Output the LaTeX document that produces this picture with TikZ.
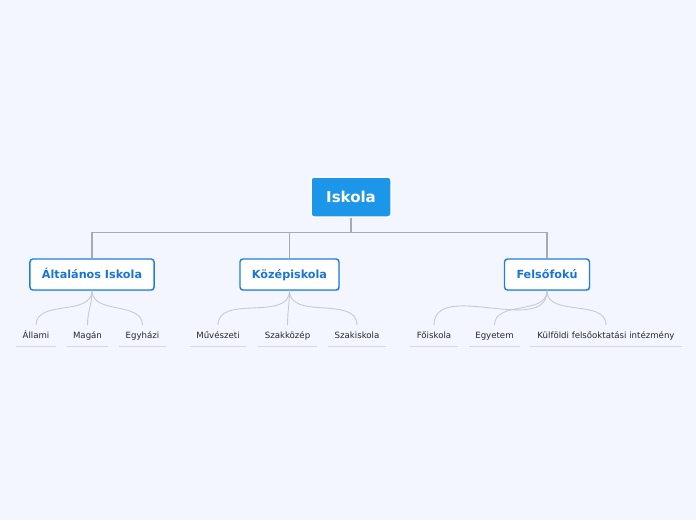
\documentclass[tikz,border=0pt]{standalone}
\usepackage{fontspec}
\setmainfont{DejaVu Sans}
\usepackage{xcolor}
\usepackage{tikz}
\usetikzlibrary{shadows}

\definecolor{bgcol}{HTML}{F3F6FE}
\definecolor{rootblue}{HTML}{1B96E9}
\definecolor{boxblue}{HTML}{1E7FDF}
\definecolor{txtblue}{HTML}{1A73D9}
\definecolor{trunkgray}{HTML}{A4AAB8}
\definecolor{twiggray}{HTML}{C6CAD3}
\definecolor{linegray}{HTML}{D3D7DF}

\begin{document}
\begin{tikzpicture}[
  x=1pt, y=-1pt,
  rootbox/.style={rectangle, draw=white, line width=1.5pt, rounded corners=3pt,
                  fill=rootblue, text=white, minimum width=80pt, minimum height=40pt,
                  text height=13pt, text depth=2pt,
                  font=\fontsize{15}{17}\selectfont\bfseries},
  topic/.style={rectangle, draw=boxblue, line width=1.4pt, rounded corners=3pt,
                fill=white, text=txtblue, minimum height=31pt, inner xsep=12pt,
                text height=10.2pt, text depth=2pt,
                font=\fontsize{11.2}{13}\selectfont\bfseries,
                drop shadow={shadow xshift=0.8pt, shadow yshift=-1.2pt, opacity=0.25}},
  leaf/.style={text=black!85, inner xsep=1pt, inner ysep=5pt,
               text height=8.5pt, text depth=2pt, anchor=south,
               font=\fontsize{8.6}{10}\selectfont},
  trunk/.style={draw=trunkgray, line width=1.1pt},
  twig/.style={draw=twiggray, line width=0.9pt},
  uline/.style={draw=linegray, line width=1pt}
]
  \fill[bgcol] (0,0) rectangle (696,520);
  \useasboundingbox (0,0) rectangle (696,520);

  % main topic
  \node[rootbox] (root) at (351,197) {Iskola};

  % subtopics
  \node[topic] (alt) at (92,274.5) {Általános Iskola};
  \node[topic] (koz) at (289.5,274.5) {Középiskola};
  \node[topic] (fel) at (547,274.5) {Felsőfokú};

  \draw[trunk] (root.south) -- ++(0,15) -| (alt.north);
  \draw[trunk] (root.south) -- ++(0,15) -| (koz.north);
  \draw[trunk] (root.south) -- ++(0,15) -| (fel.north);

  % leaves
  \node[leaf, minimum width=40pt] (allami) at (36,346) {Állami};
  \node[leaf, minimum width=41pt] (magan) at (87.5,346) {Magán};
  \node[leaf, minimum width=47pt] (egyhazi) at (142.5,346) {Egyházi};
  \node[leaf, minimum width=56pt] (muv) at (218,346) {Művészeti};
  \node[leaf, minimum width=59pt] (szakk) at (287.5,346) {Szakközép};
  \node[leaf, minimum width=58pt] (szaki) at (357,346) {Szakiskola};
  \node[leaf, minimum width=48pt] (foisk) at (434,346) {Főiskola};
  \node[leaf, minimum width=51pt] (egyet) at (494.5,346) {Egyetem};
  \node[leaf, minimum width=152pt] (kulf) at (606,346) {Külföldi felsőoktatási intézmény};

  \foreach \n in {allami,magan,egyhazi,muv,szakk,szaki,foisk,egyet,kulf}
    \draw[uline] (\n.south west) -- (\n.south east);

  \draw[twig] (alt.south) to[out=-90, in=90] (allami.north);
  \draw[twig] (alt.south) to[out=-90, in=90] (magan.north);
  \draw[twig] (alt.south) to[out=-90, in=90] (egyhazi.north);
  \draw[twig] (koz.south) to[out=-90, in=90] (muv.north);
  \draw[twig] (koz.south) to[out=-90, in=90] (szakk.north);
  \draw[twig] (koz.south) to[out=-90, in=90] (szaki.north);
  \draw[twig] (fel.south) to[out=-90, in=90] (foisk.north);
  \draw[twig] (fel.south) to[out=-90, in=90] (egyet.north);
  \draw[twig] (fel.south) to[out=-90, in=90] (kulf.north);
\end{tikzpicture}
\end{document}
